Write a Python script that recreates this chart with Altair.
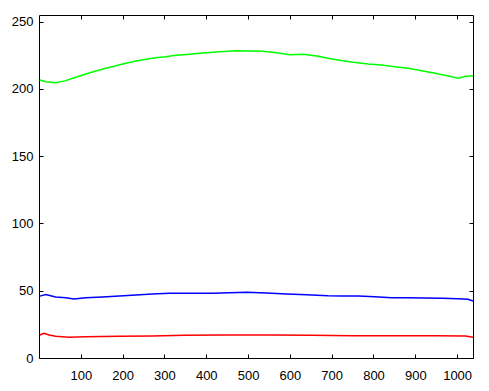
import altair as alt
import pandas as pd

# ---- data ----
green_x = [2, 16, 40, 64, 88, 112, 136, 160, 184, 208, 232, 256, 279, 303, 327, 347,
           385, 432, 472, 504, 535, 568, 600, 631, 664, 691, 715, 747, 787, 819, 851,
           883, 915, 947, 979, 1002, 1018, 1038]
green_v = [206.7, 205.4, 204.7, 206.2, 208.7, 211.2, 213.4, 215.4, 217.3, 219.1, 220.8,
           222.1, 223.3, 224.0, 225.1, 225.5, 226.5, 227.7, 228.5, 228.3, 228.0, 227.0,
           225.5, 225.8, 224.5, 222.8, 221.6, 220.1, 218.6, 217.8, 216.6, 215.4, 213.6,
           211.7, 209.7, 208.0, 209.2, 209.9]

blue_x = [2, 16, 40, 64, 84, 112, 152, 192, 232, 271, 312, 347, 416, 496, 544, 592, 640,
          691, 723, 763, 803, 843, 882, 923, 963, 1002, 1026, 1038]
blue_v = [46.0, 47.2, 45.4, 44.8, 43.9, 44.8, 45.4, 46.1, 46.8, 47.6, 48.1, 48.1, 48.1,
          48.8, 48.3, 47.6, 47.1, 46.3, 46.1, 46.1, 45.6, 44.8, 44.8, 44.6, 44.4, 44.1,
          43.6, 42.4]

red_x = [2, 12, 24, 40, 72, 112, 192, 271, 347, 450, 550, 650, 750, 850, 950, 1020, 1038]
red_v = [17.1, 18.4, 17.1, 16.1, 15.4, 15.8, 16.1, 16.4, 16.9, 17.1, 17.1, 16.9, 16.6,
         16.6, 16.6, 16.3, 15.4]

series_names = ["green", "blue", "red"]
series_colors = ["#00ff00", "#0000ff", "#ff0000"]

x_ticks = [100, 200, 300, 400, 500, 600, 700, 800, 900, 1000]
y_ticks = [0, 50, 100, 150, 200, 250]
x_domain = [0, 1038]
y_domain = [0, 255]

rows = []
for name, xs, vs in zip(series_names, [green_x, blue_x, red_x], [green_v, blue_v, red_v]):
    for xv, vv in zip(xs, vs):
        rows.append({"series": name, "x": xv, "v": vv})
df = pd.DataFrame(rows)

W, H = 434, 343
FONT = "Liberation Sans"
FS = 13

xs = alt.Scale(domain=x_domain, nice=False, zero=False)
ys = alt.Scale(domain=y_domain, nice=False)

common = dict(grid=False, domain=False, title=None)

lines = alt.Chart(df).mark_line(strokeWidth=1.5).encode(
    x=alt.X("x:Q", scale=xs, axis=alt.Axis(orient="bottom", values=x_ticks, ticks=False,
                                          tickSize=0, labelPadding=11, labelFont=FONT,
                                          format="d",
                                          labelFontSize=FS, labelColor="#000000", **common)),
    y=alt.Y("v:Q", scale=ys, axis=alt.Axis(orient="left", values=y_ticks, ticks=False,
                                          tickSize=0, labelPadding=6, labelFont=FONT,
                                          format="d",
                                          labelFontSize=FS, labelColor="#000000", **common)),
    color=alt.Color("series:N", scale=alt.Scale(domain=series_names, range=series_colors),
                    legend=None),
)

# inward ticks at bottom and left (axes moved across the plot)
ticks_a = alt.Chart(df).mark_line(opacity=0).encode(
    x=alt.X("x:Q", scale=xs, axis=alt.Axis(orient="top", offset=-H, values=x_ticks,
                                          labels=False, ticks=True, tickSize=4,
                                          tickColor="#000000", tickWidth=1, **common)),
    y=alt.Y("v:Q", scale=ys, axis=alt.Axis(orient="right", offset=-W, values=y_ticks,
                                          labels=False, ticks=True, tickSize=4,
                                          tickColor="#000000", tickWidth=1, **common)),
    detail="series:N",
)

# inward ticks at top and right
ticks_b = alt.Chart(df).mark_line(opacity=0).encode(
    x=alt.X("x:Q", scale=xs, axis=alt.Axis(orient="bottom", offset=-H, values=x_ticks,
                                          labels=False, ticks=True, tickSize=4,
                                          tickColor="#000000", tickWidth=1, **common)),
    y=alt.Y("v:Q", scale=ys, axis=alt.Axis(orient="left", offset=-W, values=y_ticks,
                                          labels=False, ticks=True, tickSize=4,
                                          tickColor="#000000", tickWidth=1, **common)),
    detail="series:N",
)

chart = alt.layer(lines, ticks_a, ticks_b).resolve_axis(
    x="independent", y="independent"
).properties(
    width=W, height=H,
    autosize=alt.AutoSizeParams(type="none"),
    padding={"left": 31, "top": 7, "right": 8, "bottom": 25},
    background="#ffffff",
).configure_view(stroke="#000000", strokeWidth=1)

chart.save("out.html", embed_options={"renderer": "svg", "actions": False})
